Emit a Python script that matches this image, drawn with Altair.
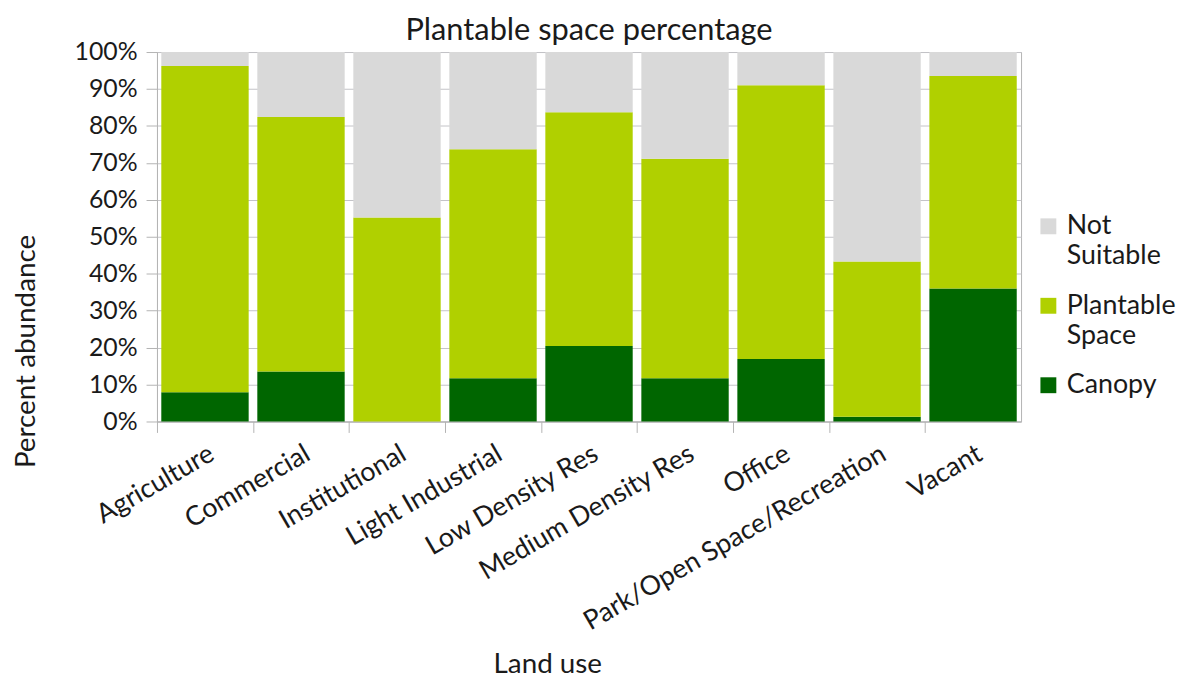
import altair as alt
import pandas as pd

land_use = ["Agriculture", "Commercial", "Institutional", "Light Industrial",
            "Low Density Res", "Medium Density Res", "Office",
            "Park/Open Space/Recreation", "Vacant"]
canopy = [7.9, 13.5, 0.0, 11.7, 20.4, 11.7, 16.9, 1.3, 36.0]
plantable = [88.3, 68.9, 55.2, 62.0, 63.3, 59.4, 74.1, 42.0, 57.5]
not_suitable = [3.8, 17.6, 44.8, 26.3, 16.3, 28.9, 9.0, 56.7, 6.5]

series = ["Canopy", "Plantable Space", "Not Suitable"]
legend_order = ["Not Suitable", "Plantable Space", "Canopy"]
legend_colors = ["#d9d9d9", "#b0d000", "#006600"]

rows = []
for i, lu in enumerate(land_use):
    for k, (name, vals) in enumerate(zip(series, [canopy, plantable, not_suitable])):
        rows.append({"land": lu, "type": name, "value": vals[i] / 100.0, "ord": k})
df = pd.DataFrame(rows)

FONT = "Lato"
TXT = "#1a1a1a"
W = 870
STEP = W / 9.0

chart = alt.Chart(df).mark_bar().encode(
    x=alt.X("land:N", sort=land_use, title="Land use",
            scale=alt.Scale(paddingInner=0.09, paddingOuter=0.045),
            axis=alt.Axis(labelAngle=330, labelFontSize=27, labelFont=FONT,
                          labelColor=TXT, labelPadding=8, tickSize=11,
                          tickOffset=-STEP / 2, labelOffset=STEP / 2,
                          tickColor="#b3b3b3", domainColor="#b3b3b3",
                          titleFontSize=28, titleFont=FONT, titleFontWeight="normal",
                          titleColor=TXT, titleX=393, titleY=245,
                          titleBaseline="middle", titleAlign="center",
                          labelLimit=600)),
    y=alt.Y("value:Q", stack="zero", title="Percent abundance",
            scale=alt.Scale(domain=[0, 1]),
            axis=alt.Axis(format="%", values=[i / 10 for i in range(11)],
                          labelFontSize=25, labelFont=FONT, labelColor=TXT,
                          labelPadding=9, tickSize=11,
                          tickColor="#b3b3b3",
                          domainColor="#b3b3b3", gridColor="#c4c4c8",
                          titleFontSize=28, titleFont=FONT, titleFontWeight="normal",
                          titleColor=TXT, titleX=-131, titleY=301,
                          titleBaseline="middle", titleAlign="center", titleAngle=270)),
    color=alt.Color("type:N",
                    scale=alt.Scale(domain=legend_order, range=legend_colors),
                    legend=alt.Legend(title=None, orient="none", legendX=884, legendY=162,
                                      symbolType="square", symbolSize=256,
                                      symbolStrokeWidth=0, labelFontSize=27,
                                      labelFont=FONT, labelColor=TXT,
                                      labelExpr="split(datum.label, ' ')",
                                      labelBaseline="middle", labelOffset=5,
                                      rowPadding=22, labelLimit=300)),
    order=alt.Order("ord:Q", sort="ascending"),
).properties(
    width=W, height=372,
    title=alt.TitleParams("Plantable space percentage", fontSize=31, font=FONT,
                          fontWeight="normal", color=TXT, offset=-7),
    padding={"left": 5, "top": 5, "right": 0, "bottom": 5},
).configure(
    view=alt.ViewConfig(stroke="#b3b3b3"),
    style={"guide-label": {"lineHeight": 30}},
)

chart.save("out.html", embed_options={"renderer": "svg", "actions": False})
